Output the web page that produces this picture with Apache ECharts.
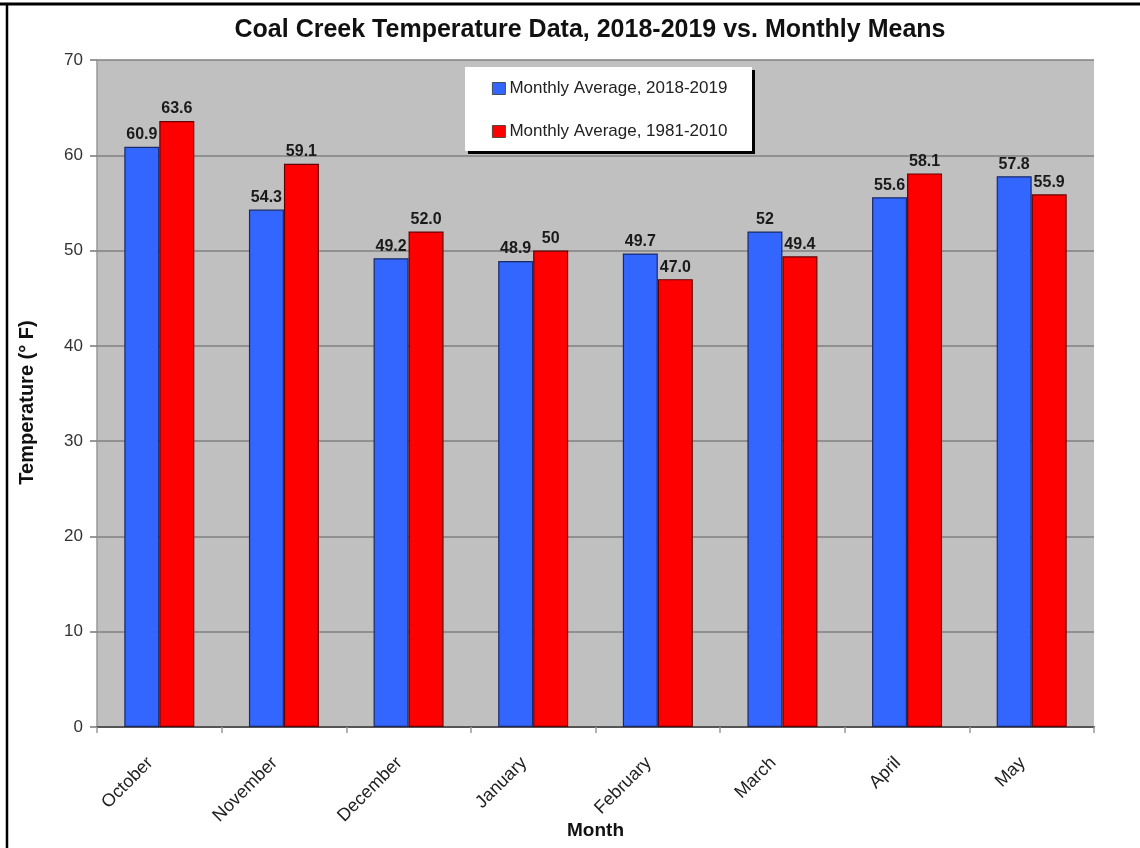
<!DOCTYPE html>
<html>
<head>
<meta charset="utf-8">
<title>Coal Creek Temperature Data</title>
<script src="https://cdn.jsdelivr.net/npm/echarts@6/dist/echarts.min.js"></script>
<style>
  html, body { margin: 0; padding: 0; background: #ffffff; }
  #chart { width: 1140px; height: 848px; }
</style>
</head>
<body>
<div id="chart"></div>
<script>
// Months of the water year shown on the category axis
const months = ['October', 'November', 'December', 'January', 'February', 'March', 'April', 'May'];

// Value labels as printed above each bar; bar heights come from the same numbers
const labels2018 = ['60.9', '54.3', '49.2', '48.9', '49.7', '52', '55.6', '57.8'];
const labels1981 = ['63.6', '59.1', '52.0', '50', '47.0', '49.4', '58.1', '55.9'];

const values2018 = labels2018.map(Number);
const values1981 = labels1981.map(Number);

// Temperature axis ticks (° F)
const yTicks = [0, 10, 20, 30, 40, 50, 60, 70];

const seriesNames = ['Monthly Average, 2018-2019', 'Monthly Average, 1981-2010'];

const FONT = '"Liberation Sans", Arial, sans-serif';

const chart = echarts.init(document.getElementById('chart'), null, { renderer: 'canvas' });

function barLabel(texts) {
  return {
    show: true,
    position: 'top',
    distance: 4,
    fontFamily: FONT,
    fontWeight: 'bold',
    fontSize: 16,
    color: '#1a1a1a',
    formatter: p => texts[p.dataIndex]
  };
}

chart.setOption({
  backgroundColor: '#ffffff',
  animation: false,
  title: {
    text: 'Coal Creek Temperature Data, 2018-2019 vs. Monthly Means',
    left: 585,
    textAlign: 'center',
    top: 13,
    textStyle: { fontFamily: FONT, fontWeight: 'bold', fontSize: 25, color: '#111' }
  },
  graphic: [
    // frame lines along the top and left edge
    { type: 'line', shape: { x1: 0, y1: 4, x2: 1140, y2: 4 }, style: { stroke: '#000', lineWidth: 3 }, z: 10 },
    { type: 'line', shape: { x1: 7, y1: 4, x2: 7, y2: 848 }, style: { stroke: '#000', lineWidth: 2.5 }, z: 10 },
    // legend box with drop shadow
    { type: 'rect', shape: { x: 468, y: 70, width: 287, height: 84 }, style: { fill: '#000' }, z: 3 },
    { type: 'rect', shape: { x: 465, y: 67, width: 287, height: 84 }, style: { fill: '#fff' }, z: 4 }
  ],
  legend: {
    data: seriesNames,
    orient: 'vertical',
    left: 487,
    top: 75,
    itemGap: 26,
    itemWidth: 13,
    itemHeight: 12,
    icon: 'rect',
    z: 5,
    textStyle: { fontFamily: FONT, fontSize: 17, color: '#222', padding: [0, 0, 0, -1] },
    itemStyle: { borderColor: '#333', borderWidth: 0.8 }
  },
  grid: {
    left: 97,
    right: 46,
    top: 60,
    bottom: 121,
    outerBoundsMode: 'none',
    containLabel: false,
    show: true,
    backgroundColor: '#c0c0c0',
    borderWidth: 0
  },
  xAxis: {
    type: 'category',
    data: months,
    boundaryGap: true,
    name: 'Month',
    nameLocation: 'middle',
    nameGap: 94,
    nameMoveOverlap: false,
    nameTextStyle: { fontFamily: FONT, fontWeight: 'bold', fontSize: 19, color: '#111' },
    axisLine: { show: true, lineStyle: { color: '#555', width: 2 } },
    axisTick: { show: true, alignWithLabel: false, length: 6, lineStyle: { color: '#999', width: 1.5 } },
    axisLabel: {
      rotate: 45,
      margin: 24,
      padding: [0, 13, 0, 0],
      fontFamily: FONT,
      fontSize: 18,
      color: '#222',
      interval: 0
    }
  },
  yAxis: {
    type: 'value',
    min: 0,
    max: 70,
    interval: 10,
    name: 'Temperature (° F)',
    nameLocation: 'middle',
    nameRotate: 90,
    nameGap: 60,
    nameMoveOverlap: false,
    nameTextStyle: { fontFamily: FONT, fontWeight: 'bold', fontSize: 20, color: '#111', padding: [0, 0, 0, -18] },
    axisLine: { show: true, lineStyle: { color: '#999', width: 1.5 } },
    axisTick: { show: true, length: 7, lineStyle: { color: '#777', width: 1.5 } },
    axisLabel: {
      margin: 14,
      fontFamily: FONT,
      fontSize: 17,
      color: '#333',
      formatter: v => (yTicks.includes(v) ? String(v) : '')
    },
    splitLine: { show: true, lineStyle: { color: '#808080', width: 1.5 } }
  },
  series: [
    {
      name: seriesNames[0],
      type: 'bar',
      data: values2018,
      barWidth: 35,
      barGap: '0%',
      itemStyle: { color: '#3366ff', borderColor: '#1a2a66', borderWidth: 1.2 },
      label: barLabel(labels2018)
    },
    {
      name: seriesNames[1],
      type: 'bar',
      data: values1981,
      barWidth: 35,
      barGap: '0%',
      itemStyle: { color: '#ff0000', borderColor: '#660000', borderWidth: 1.2 },
      label: barLabel(labels1981)
    }
  ]
});
</script>
</body>
</html>
